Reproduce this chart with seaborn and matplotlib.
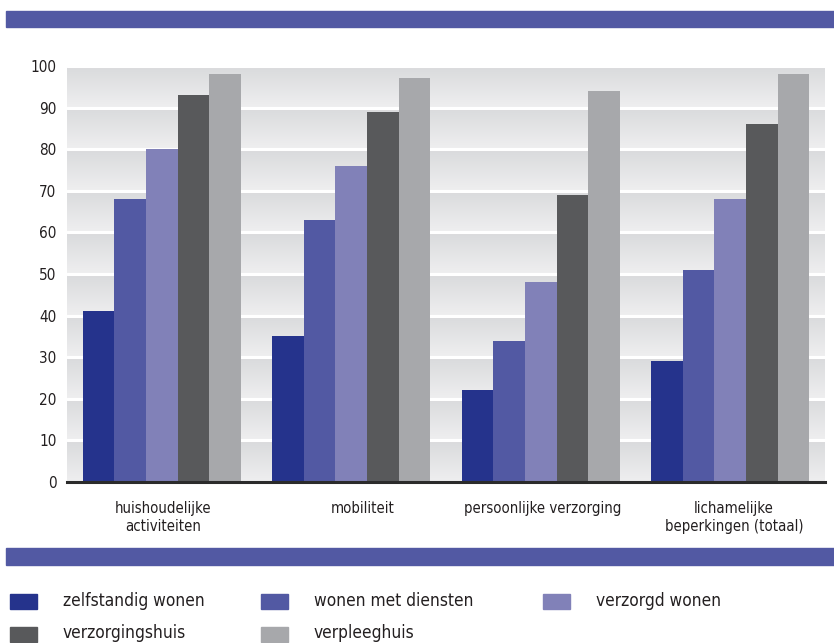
import numpy as np
import pandas as pd
import matplotlib
matplotlib.use("Agg")
import matplotlib.pyplot as plt
import seaborn as sns
from matplotlib.patches import Rectangle
from matplotlib.colors import LinearSegmentedColormap

categories = ["huishoudelijke\nactiviteiten", "mobiliteit", "persoonlijke verzorging",
              "lichamelijke\nbeperkingen (totaal)"]
series = ["zelfstandig wonen", "wonen met diensten", "verzorgd wonen",
          "verzorgingshuis", "verpleeghuis"]
zelfstandig = [41, 35, 22, 29]
met_diensten = [68, 63, 34, 51]
verzorgd = [80, 76, 48, 68]
verzorgingshuis = [93, 89, 69, 86]
verpleeghuis = [98, 97, 94, 98]
yticks = [0, 10, 20, 30, 40, 50, 60, 70, 80, 90, 100]

colors = ["#25338c", "#5259a3", "#8181b8", "#58595b", "#a7a8ab"]
band_color = "#5259a3"
text_color = "#231f20"

sns.set_theme(style="white")
plt.rcParams["font.family"] = ["DejaVu Sans"]
plt.rcParams["font.stretch"] = "condensed"

rows = []
for name, vals in zip(series, [zelfstandig, met_diensten, verzorgd, verzorgingshuis, verpleeghuis]):
    for cat, v in zip(categories, vals):
        rows.append({"categorie": cat, "woonvorm": name, "waarde": v})
df = pd.DataFrame(rows)

W, H = 834, 643
fig = plt.figure(figsize=(W / 100, H / 100), dpi=100)
ax = fig.add_axes([67 / W, (H - 482) / H, 758 / W, 416 / H])

# gradient background: each band between gridlines fades from grey (top) to light (bottom)
grad = np.linspace(0, 1, 200)
cmap = LinearSegmentedColormap.from_list("band", ["#d9dadc", "#efeff0"])
for lo in range(0, 100, 10):
    ax.imshow(grad[:, None], aspect="auto", cmap=cmap, origin="upper",
              extent=(-0.5, 3.5, lo, lo + 10), zorder=0, interpolation="bilinear")
for y in range(10, 101, 10):
    ax.axhline(y, color="white", lw=2.2, zorder=1)

sns.barplot(data=df, x="categorie", y="waarde", hue="woonvorm", order=categories,
            hue_order=series, palette=colors, width=0.835, gap=0, saturation=1,
            linewidth=0, legend=False, ax=ax, zorder=2)

ax.set_xlim(-0.5, 3.5)
ax.set_ylim(0, 100)
ax.set_yticks(yticks)
ax.set_yticklabels([str(t) for t in yticks], fontsize=11, color=text_color)
# category labels sit slightly right of the group centres
ax.set_xticks([0.005, 1.06, 2.01, 3.02])
ax.set_xticklabels(categories)
ax.tick_params(axis="y", length=0, pad=7.5)
ax.tick_params(axis="x", length=0, pad=14, labelsize=10.7, labelcolor=text_color)
ax.set_xlabel("")
ax.set_ylabel("")
for s in ["top", "right", "left"]:
    ax.spines[s].set_visible(False)
ax.spines["bottom"].set_color("#2b2b2b")
ax.spines["bottom"].set_linewidth(2.2)
ax.spines["bottom"].set_zorder(5)

# decorative bands above the chart and above the legend
fig.patches.append(Rectangle((6 / W, (H - 27) / H), 828 / W, 16 / H,
                             transform=fig.transFigure, color=band_color, zorder=0))
fig.patches.append(Rectangle((6 / W, (H - 565) / H), 828 / W, 17 / H,
                             transform=fig.transFigure, color=band_color, zorder=0))

# legend swatches and labels
col_x = [10, 261, 543]
row_y = [601.5, 634]
for i, (name, c) in enumerate(zip(series, colors)):
    r, k = divmod(i, 3)
    x0 = col_x[k]
    yc = row_y[r]
    fig.patches.append(Rectangle((x0 / W, (H - yc - 7.5) / H), 27 / W, 15 / H,
                                 transform=fig.transFigure, color=c, zorder=1))
    fig.text((x0 + 53) / W, (H - yc + 1) / H, name, fontsize=12.4,
             color=text_color, va="center", ha="left")

fig.savefig("out.png", dpi=100)
